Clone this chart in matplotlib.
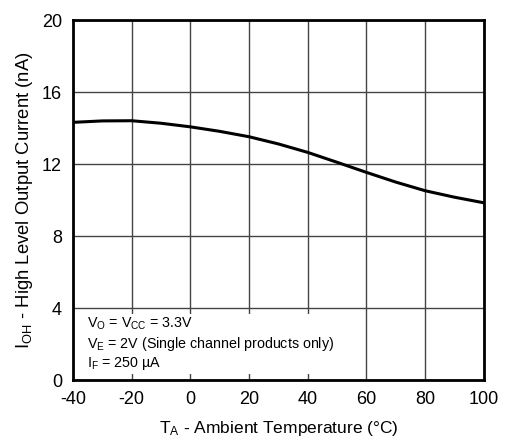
import matplotlib
matplotlib.use("Agg")
import matplotlib.pyplot as plt

# data
temp_c = [-40, -30, -20, -10, 0, 10, 20, 30, 40, 50, 60, 70, 80, 90, 100]
i_oh_na = [14.32, 14.40, 14.41, 14.27, 14.07, 13.82, 13.52, 13.12, 12.65, 12.10, 11.54, 11.00, 10.52, 10.16, 9.85]

x_ticks = [-40, -20, 0, 20, 40, 60, 80, 100]
y_ticks = [0, 4, 8, 12, 16, 20]

plt.rcParams["font.family"] = ["Liberation Sans", "DejaVu Sans"]
plt.rcParams["axes.unicode_minus"] = False

fig = plt.figure(figsize=(5.05, 4.38), dpi=100)
ax = fig.add_axes([0.1446, 0.1324, 0.8134, 0.8216])

ax.plot(temp_c, i_oh_na, color="black", lw=2.2, zorder=3)

ax.set_xlim(-40, 100)
ax.set_ylim(0, 20)
ax.set_xticks(x_ticks)
ax.set_yticks(y_ticks)
ax.tick_params(length=0, labelsize=13, pad=8)
ax.grid(True, color="#444444", lw=1.0)
for s in ax.spines.values():
    s.set_linewidth(2)
    s.set_color("black")

ax.set_xlabel(r"$\mathregular{T_A}$ - Ambient Temperature (°C)", fontsize=12.5, labelpad=8)
ax.set_ylabel(r"$\mathregular{I_{OH}}$ - High Level Output Current (nA)", fontsize=13.3, labelpad=5)

note = ("$\\mathregular{V_O}$ = $\\mathregular{V_{CC}}$ = 3.3V\n"
        "$\\mathregular{V_E}$ = 2V (Single channel products only)\n"
        "$\\mathregular{I_F}$ = 250 µA")
ax.text(-35.3, 0.45, note, fontsize=10.3, va="bottom", ha="left", linespacing=1.2,
        bbox=dict(facecolor="white", edgecolor="none", pad=1.5), zorder=4)

fig.savefig("out.png", dpi=100)
